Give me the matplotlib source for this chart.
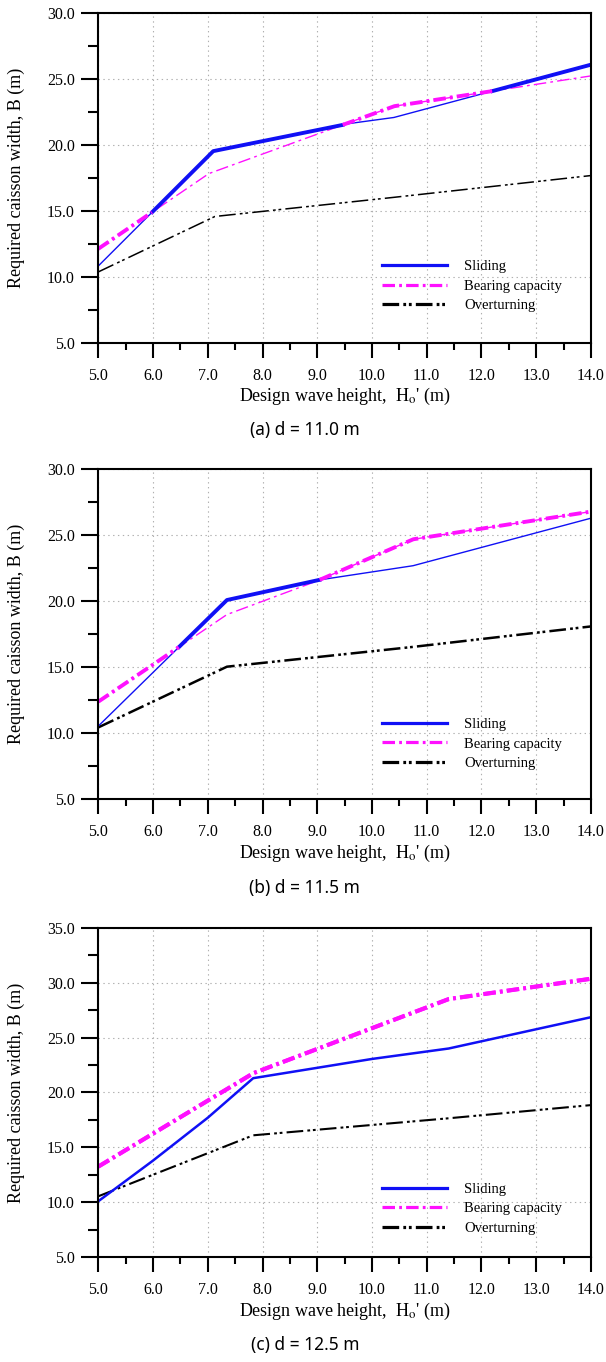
import numpy as np
import matplotlib.pyplot as plt
from matplotlib.lines import Line2D
from matplotlib.ticker import MultipleLocator, FormatStrFormatter

plt.rcParams['font.family'] = 'Liberation Serif'
plt.rcParams['mathtext.fontset'] = 'stix'
plt.rcParams['lines.scale_dashes'] = False

# (a) d = 11.0 m
x_slide_a = [5.0, 7.1, 9.6, 10.4, 14.0]
y_slide_a = [10.8, 19.5, 21.6, 22.05, 26.05]
x_bear_a = [5.0, 7.02, 10.4, 14.0]
y_bear_a = [12.1, 17.8, 22.9, 25.2]
x_over_a = [5.0, 7.13, 10.4, 14.0]
y_over_a = [10.35, 14.55, 16.0, 17.65]

# (b) d = 11.5 m
x_slide_b = [5.0, 7.35, 9.0, 10.75, 14.0]
y_slide_b = [10.55, 20.1, 21.6, 22.7, 26.3]
x_bear_b = [5.0, 7.35, 9.0, 10.75, 14.0]
y_bear_b = [12.4, 19.0, 21.55, 24.7, 26.8]
x_over_b = [5.0, 7.35, 10.75, 14.0]
y_over_b = [10.45, 15.05, 16.55, 18.1]

# (c) d = 12.5 m
x_slide_c = [5.0, 6.0, 7.0, 7.83, 10.0, 11.4, 14.0]
y_slide_c = [10.1, 13.8, 17.7, 21.3, 23.05, 24.0, 26.85]
x_bear_c = [5.0, 7.83, 11.4, 14.0]
y_bear_c = [13.25, 21.75, 28.5, 30.35]
x_over_c = [5.0, 7.83, 11.4, 14.0]
y_over_c = [10.55, 16.1, 17.65, 18.85]

titles = ['(a) d = 11.0 m', '(b) d = 11.5 m', '(c) d = 12.5 m']
labels = ['Sliding', 'Bearing capacity', 'Overturning']

blue = '#1010f5'
magenta = '#ff10ff'
dash_b = (0, (9, 3, 2, 3))
dash_o = (0, (12, 3, 2, 2, 2, 3))


def draw(ax, xs, ys, xb, yb, xo, yo, ymax, lw_s, lw_b, lw_o, leg_y):
    ax.plot(xo, yo, color='black', lw=lw_o, linestyle=dash_o)
    ax.plot(xs, ys, color=blue, lw=lw_s)
    ax.plot(xb, yb, color=magenta, lw=lw_b, linestyle=dash_b)
    # governing (larger) of sliding / bearing drawn thick
    xf = np.linspace(5, 14, 1801)
    sf = np.interp(xf, xs, ys)
    bf = np.interp(xf, xb, yb)
    ax.plot(xf, np.where(sf >= bf, sf, np.nan), color=blue, lw=2.8)
    ax.plot(xf, np.where(bf > sf, bf, np.nan), color=magenta, lw=2.8,
            linestyle=dash_b)

    ax.set_xlim(5, 14)
    ax.set_ylim(5, ymax)
    ax.xaxis.set_major_locator(MultipleLocator(1.0))
    ax.xaxis.set_minor_locator(MultipleLocator(0.5))
    ax.yaxis.set_major_locator(MultipleLocator(5.0))
    ax.yaxis.set_minor_locator(MultipleLocator(2.5))
    ax.xaxis.set_major_formatter(FormatStrFormatter('%.1f'))
    ax.yaxis.set_major_formatter(FormatStrFormatter('%.1f'))
    ax.tick_params(axis='both', which='both', direction='out', width=1.5,
                   labelsize=11.5, top=False, right=False)
    ax.tick_params(axis='y', which='major', length=12, pad=5)
    ax.tick_params(axis='y', which='minor', length=7)
    ax.tick_params(axis='x', which='major', length=11, pad=7)
    ax.tick_params(axis='x', which='minor', length=5)
    for sp in ax.spines.values():
        sp.set_linewidth(1.5)
    ax.grid(True, which='major', linestyle=(0, (1, 2.5)), color='#b0b0b0',
            linewidth=0.8)
    ax.set_ylabel('Required caisson width, B (m)', fontsize=13, labelpad=16)
    ax.set_xlabel("Design wave height,  H$_\\mathrm{o}$' (m)", fontsize=13,
                  labelpad=2)

    handles = [Line2D([], [], color=blue, lw=2.3),
               Line2D([], [], color=magenta, lw=2.3, linestyle=dash_b),
               Line2D([], [], color='black', lw=2.3, linestyle=dash_o)]
    ax.legend(handles, labels, loc='center left', bbox_to_anchor=(0.575, leg_y),
              frameon=False, fontsize=10.5, handlelength=4.5,
              handletextpad=1.15, labelspacing=0.45, borderpad=0,
              borderaxespad=0)


fig = plt.figure(figsize=(6.06, 13.62), dpi=100)
ax1 = fig.add_axes([0.1622, 0.7485, 0.813, 0.2423])
ax2 = fig.add_axes([0.1622, 0.4131, 0.813, 0.2423])
ax3 = fig.add_axes([0.1622, 0.0769, 0.813, 0.2420])

draw(ax1, x_slide_a, y_slide_a, x_bear_a, y_bear_a, x_over_a, y_over_a,
     30, 1.0, 1.0, 1.1, 0.171)
draw(ax2, x_slide_b, y_slide_b, x_bear_b, y_bear_b, x_over_b, y_over_b,
     30, 1.0, 1.0, 1.8, 0.168)
draw(ax3, x_slide_c, y_slide_c, x_bear_c, y_bear_c, x_over_c, y_over_c,
     35, 1.8, 3.0, 1.5, 0.147)

for t, y in zip(titles, [0.6843, 0.348, 0.0125]):
    fig.text(0.503, y, t, family='Noto Sans', fontsize=12.5,
             ha='center', va='center')

fig.savefig('out.png', dpi=100)
